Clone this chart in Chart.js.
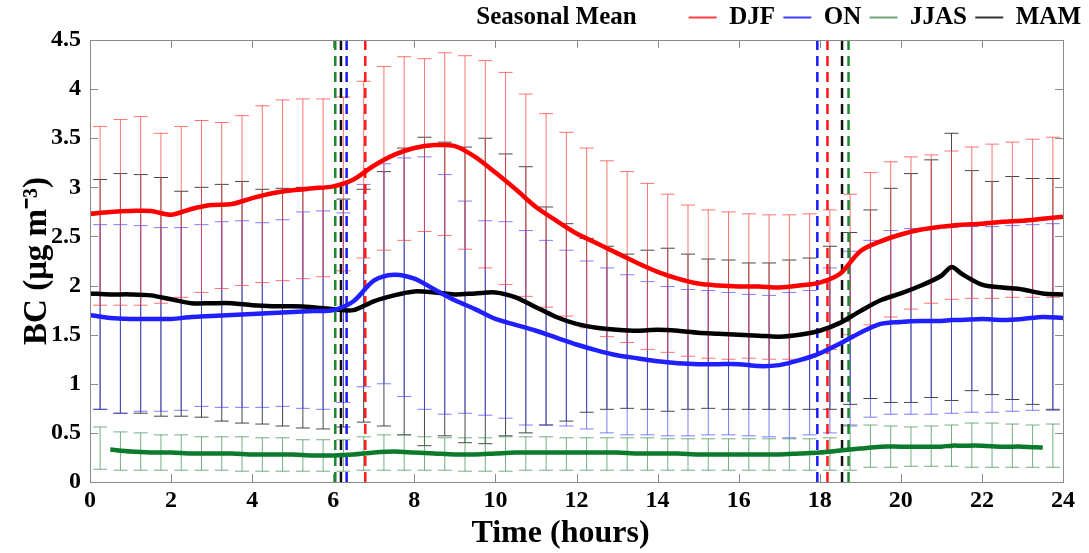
<!DOCTYPE html>
<html>
<head>
<meta charset="utf-8">
<script src="https://cdn.jsdelivr.net/npm/chart.js@4.4.1/dist/chart.umd.min.js"></script>
<style>
  html, body { margin: 0; padding: 0; background: #fff; }
  #wrap { width: 1089px; height: 553px; }
</style>
</head>
<body>
<div id="wrap"><canvas id="chart1" width="1089" height="553"></canvas></div>
<script>
// hours of the mean curves
const hours = [0, 0.5, 1, 1.5, 2, 2.5, 3, 3.5, 4, 4.5, 5, 5.5, 6, 6.5, 7, 7.5, 8, 8.5, 9, 9.5,
  10, 10.5, 11, 11.5, 12, 12.5, 13, 13.5, 14, 14.5, 15, 15.5, 16, 16.5, 17, 17.5, 18, 18.5,
  19, 19.5, 20, 20.5, 21, 21.25, 21.5, 22, 22.5, 23, 23.5, 24];

const djfMean = [2.73, 2.75, 2.76, 2.76, 2.72, 2.78, 2.82, 2.83, 2.89, 2.94, 2.97, 2.99, 3.01, 3.08, 3.22, 3.33, 3.40, 3.43, 3.42, 3.31,
  3.15, 2.98, 2.80, 2.66, 2.53, 2.43, 2.33, 2.23, 2.14, 2.07, 2.02, 2.00, 1.99, 1.99, 1.98, 2.00, 2.03, 2.12,
  2.35, 2.45, 2.52, 2.57, 2.60, 2.61, 2.62, 2.63, 2.65, 2.66, 2.68, 2.70];
const onMean = [1.70, 1.67, 1.66, 1.66, 1.66, 1.68, 1.69, 1.70, 1.71, 1.72, 1.73, 1.74, 1.75, 1.84, 2.05, 2.11, 2.07, 1.96, 1.85, 1.76,
  1.66, 1.60, 1.54, 1.47, 1.40, 1.34, 1.29, 1.26, 1.23, 1.21, 1.20, 1.20, 1.20, 1.18, 1.19, 1.24, 1.31, 1.41,
  1.52, 1.61, 1.63, 1.64, 1.64, 1.65, 1.65, 1.66, 1.65, 1.66, 1.68, 1.67];
const jjasMean = [null, 0.33, 0.31, 0.30, 0.30, 0.29, 0.29, 0.29, 0.28, 0.28, 0.28, 0.27, 0.27, 0.28, 0.30, 0.31, 0.30, 0.29, 0.28, 0.28,
  0.29, 0.30, 0.30, 0.30, 0.30, 0.30, 0.30, 0.29, 0.29, 0.29, 0.28, 0.28, 0.28, 0.28, 0.28, 0.29, 0.30, 0.32,
  0.34, 0.36, 0.36, 0.36, 0.36, 0.37, 0.37, 0.37, 0.36, 0.36, 0.35, null];
const mamMean = [1.92, 1.91, 1.91, 1.90, 1.86, 1.82, 1.82, 1.82, 1.80, 1.79, 1.79, 1.78, 1.76, 1.75, 1.84, 1.90, 1.94, 1.93, 1.91, 1.92,
  1.93, 1.88, 1.78, 1.68, 1.61, 1.57, 1.55, 1.54, 1.55, 1.54, 1.52, 1.51, 1.50, 1.49, 1.48, 1.50, 1.54, 1.62,
  1.74, 1.85, 1.92, 2.00, 2.10, 2.19, 2.12, 2.01, 1.98, 1.96, 1.92, 1.91];

// half-hour error bar centres
const barHours = [0.25, 0.75, 1.25, 1.75, 2.25, 2.75, 3.25, 3.75, 4.25, 4.75, 5.25, 5.75, 6.25, 6.75, 7.25, 7.75,
  8.25, 8.75, 9.25, 9.75, 10.25, 10.75, 11.25, 11.75, 12.25, 12.75, 13.25, 13.75, 14.25, 14.75, 15.25, 15.75,
  16.25, 16.75, 17.25, 17.75, 18.25, 18.75, 19.25, 19.75, 20.25, 20.75, 21.25, 21.75, 22.25, 22.75, 23.25, 23.75];

const djfHi = [3.62, 3.69, 3.72, 3.55, 3.62, 3.68, 3.66, 3.73, 3.83, 3.89, 3.90, 3.90, 3.92, 4.08, 4.23, 4.33,
  4.31, 4.37, 4.34, 4.29, 4.17, 3.95, 3.75, 3.56, 3.40, 3.27, 3.16, 3.04, 2.93, 2.82, 2.77, 2.75,
  2.73, 2.72, 2.72, 2.73, 2.77, 2.93, 3.15, 3.26, 3.31, 3.33, 3.37, 3.41, 3.44, 3.46, 3.49, 3.51];
const djfLo = [1.80, 1.80, 1.80, 1.82, 1.88, 1.93, 1.97, 2.00, 2.03, 2.05, 2.07, 2.09, 2.15, 2.28, 2.36, 2.46,
  2.55, 2.51, 2.37, 2.18, 2.01, 1.89, 1.78, 1.69, 1.57, 1.48, 1.42, 1.35, 1.32, 1.28, 1.26, 1.25,
  1.26, 1.25, 1.25, 1.27, 1.35, 1.50, 1.60, 1.68, 1.76, 1.82, 1.86, 1.87, 1.87, 1.88, 1.88, 1.88];
const onHi = [2.62, 2.62, 2.61, 2.59, 2.59, 2.62, 2.65, 2.66, 2.64, 2.67, 2.75, 2.76, 2.74, 3.03, 3.24, 3.30,
  3.31, 3.13, 2.86, 2.66, 2.65, 2.56, 2.46, 2.36, 2.25, 2.18, 2.11, 2.04, 1.99, 1.96, 1.95, 1.93,
  1.91, 1.90, 1.93, 1.95, 2.18, 2.35, 2.46, 2.56, 2.58, 2.58, 2.59, 2.60, 2.60, 2.61, 2.62, 2.63];
const onLo = [0.74, 0.70, 0.72, 0.72, 0.73, 0.77, 0.76, 0.76, 0.76, 0.77, 0.75, 0.74, 0.81, 0.97, 1.00, 0.87,
  0.74, 0.69, 0.70, 0.68, 0.65, 0.58, 0.58, 0.57, 0.54, 0.50, 0.48, 0.48, 0.47, 0.47, 0.48, 0.48,
  0.47, 0.46, 0.45, 0.48, 0.50, 0.58, 0.66, 0.69, 0.69, 0.69, 0.70, 0.71, 0.71, 0.72, 0.73, 0.73];
const jjasHi = [0.56, 0.51, 0.50, 0.48, 0.48, 0.46, 0.46, 0.46, 0.45, 0.45, 0.43, 0.43, 0.43, 0.46, 0.48, 0.48,
  0.46, 0.45, 0.45, 0.45, 0.46, 0.46, 0.46, 0.45, 0.45, 0.45, 0.45, 0.45, 0.44, 0.44, 0.44, 0.44,
  0.44, 0.44, 0.44, 0.44, 0.45, 0.57, 0.58, 0.57, 0.56, 0.57, 0.58, 0.60, 0.60, 0.59, 0.58, 0.59];
const jjasLo = [0.13, 0.12, 0.12, 0.12, 0.12, 0.12, 0.12, 0.11, 0.11, 0.11, 0.11, 0.11, 0.11, 0.12, 0.12, 0.12,
  0.12, 0.12, 0.11, 0.11, 0.11, 0.12, 0.12, 0.12, 0.12, 0.12, 0.12, 0.12, 0.12, 0.12, 0.12, 0.12,
  0.12, 0.12, 0.12, 0.12, 0.12, 0.12, 0.15, 0.15, 0.16, 0.16, 0.16, 0.15, 0.15, 0.15, 0.15, 0.15];
const mamHi = [3.08, 3.14, 3.13, 3.10, 2.96, 3.00, 3.03, 3.06, 2.98, 2.99, 3.00, 3.00, 2.88, 2.98, 3.16, 3.40,
  3.51, 3.46, 3.41, 3.50, 3.34, 3.21, 2.80, 2.63, 2.48, 2.40, 2.32, 2.36, 2.38, 2.32, 2.27, 2.26,
  2.23, 2.23, 2.26, 2.28, 2.40, 2.54, 2.77, 2.99, 3.14, 3.28, 3.55, 3.17, 3.06, 3.11, 3.09, 3.09];
const mamLo = [0.74, 0.70, 0.70, 0.67, 0.67, 0.66, 0.62, 0.60, 0.59, 0.57, 0.55, 0.54, 0.56, 0.61, 0.57, 0.48,
  0.37, 0.47, 0.40, 0.39, 0.47, 0.50, 0.58, 0.62, 0.71, 0.74, 0.75, 0.74, 0.72, 0.74, 0.75, 0.74,
  0.74, 0.74, 0.74, 0.74, 0.74, 0.79, 0.85, 0.81, 0.81, 0.86, 0.83, 0.93, 0.89, 0.84, 0.79, 0.74];

// sunrise / sunset markers
const seasons = ['DJF', 'ON', 'JJAS', 'MAM'];
const sunrise = [6.79, 6.33, 6.05, 6.19];
const sunset = [18.19, 17.94, 18.71, 18.55];

const meanColors = ['#ff0000', '#1f1fff', '#0b7a2c', '#000000'];
const barColors = ['rgba(255,70,70,0.75)', 'rgba(70,70,255,0.7)', 'rgba(60,140,80,0.7)', 'rgba(40,40,40,0.85)'];
const dashColors = ['#ff1a1a', '#1a1aff', '#1b8a2e', '#111111'];
const legendColors = ['#ff4040', '#4040ff', '#6aa67a', '#333333'];

const font = 'Liberation Serif';

function pts(xs, ys) {
    return xs.map((x, i) => ({x: x, y: ys[i]}));
}

function stems(lo, hi) {
    let out = [];
    barHours.forEach((h, i) => {
        out.push({x: h, y: lo[i]});
        out.push({x: h, y: hi[i]});
        out.push({x: h, y: null});
    });
    return out;
}

function caps(lo, hi) {
    let out = [];
    barHours.forEach((h, i) => {
        out.push({x: h, y: lo[i]});
        out.push({x: h, y: hi[i]});
    });
    return out;
}

const means = [djfMean, onMean, jjasMean, mamMean];
const his = [djfHi, onHi, jjasHi, mamHi];
const los = [djfLo, onLo, jjasLo, mamLo];

let datasets = [];
seasons.forEach((s, i) => {
    datasets.push({
        type: 'line', label: s, data: pts(hours, means[i]),
        borderColor: meanColors[i], backgroundColor: meanColors[i],
        borderWidth: 4.5, pointRadius: 0, tension: 0.3, spanGaps: true, order: 0
    });
});
// draw order for error bars: black, green, blue, red on top
[3, 2, 1, 0].forEach((i, n) => {
    datasets.push({
        type: 'line', label: seasons[i] + ' sd', data: stems(los[i], his[i]),
        borderColor: barColors[i], borderWidth: 1, pointRadius: 0, spanGaps: false, order: 10 - n
    });
    datasets.push({
        type: 'scatter', label: seasons[i] + ' caps', data: caps(los[i], his[i]),
        borderColor: barColors[i], pointStyle: 'line', pointRadius: 7, borderWidth: 1, order: 10 - n
    });
});
seasons.forEach((s, i) => {
    [sunrise[i], sunset[i]].forEach(h => {
        datasets.push({
            type: 'line', label: s + ' sun', data: [{x: h, y: 0}, {x: h, y: 4.5}],
            borderColor: dashColors[i], borderWidth: 2.5, borderDash: [10, 6], pointRadius: 0, order: 1
        });
    });
});

const frame = {
    id: 'frame',
    afterDraw(chart) {
        const {ctx, chartArea: a, scales} = chart;
        ctx.save();
        ctx.strokeStyle = '#8a8a8a';
        ctx.lineWidth = 1;
        ctx.strokeRect(a.left + 0.5, a.top + 0.5, a.right - a.left, a.bottom - a.top);
        ctx.beginPath();
        scales.x.ticks.forEach(t => {
            const px = Math.round(scales.x.getPixelForValue(t.value)) + 0.5;
            ctx.moveTo(px, a.bottom); ctx.lineTo(px, a.bottom - 8);
            ctx.moveTo(px, a.top); ctx.lineTo(px, a.top + 8);
        });
        scales.y.ticks.forEach(t => {
            const py = Math.round(scales.y.getPixelForValue(t.value)) + 0.5;
            ctx.moveTo(a.left, py); ctx.lineTo(a.left + 8, py);
            ctx.moveTo(a.right, py); ctx.lineTo(a.right - 8, py);
        });
        ctx.stroke();
        ctx.restore();
    }
};

const ctx1 = document.getElementById('chart1').getContext('2d');
window.bar1 = new Chart(ctx1, {
    data: {datasets: datasets},
    options: {
        responsive: false,
        animation: false,
        events: [],
        layout: {padding: {left: 0, right: 6, top: 3, bottom: 0}},
        plugins: {
            tooltip: {enabled: false},
            legend: {
                position: 'top',
                align: 'end',
                labels: {
                    color: '#000',
                    font: {family: font, size: 25, weight: 'bold'},
                    usePointStyle: true,
                    pointStyleWidth: 28,
                    padding: 2,
                    generateLabels(chart) {
                        let items = Chart.defaults.plugins.legend.labels.generateLabels(chart)
                            .filter(it => it.datasetIndex < 4);
                        items.forEach(it => {
                            it.pointStyle = 'line';
                            it.lineWidth = 2;
                            it.strokeStyle = legendColors[it.datasetIndex];
                            if (it.datasetIndex < 3) it.text = it.text + ' ';
                        });
                        items.unshift({text: 'Seasonal Mean        ', fillStyle: 'rgba(0,0,0,0)',
                            strokeStyle: 'rgba(0,0,0,0)', lineWidth: 0, pointStyle: 'line',
                            hidden: false, datasetIndex: -1, fontColor: '#000'});
                        return items;
                    }
                }
            }
        },
        scales: {
            x: {
                type: 'linear', min: 0, max: 24,
                ticks: {stepSize: 2, color: '#000', padding: 4, maxRotation: 0,
                    font: {family: font, size: 24, weight: 'bold'}},
                grid: {display: false, drawTicks: false},
                border: {display: false},
                title: {display: true, text: 'Time (hours)    ', color: '#000', padding: {top: 0, bottom: 0},
                    font: {family: font, size: 32, weight: 'bold'}},
                afterFit(scale) { scale.height = 71; }
            },
            y: {
                type: 'linear', min: 0, max: 4.5,
                ticks: {stepSize: 0.5, color: '#000', padding: 9,
                    font: {family: font, size: 24, weight: 'bold'},
                    callback: v => String(v)},
                grid: {display: false, drawTicks: false},
                border: {display: false},
                title: {display: true, text: 'BC (μg m⁻³)', color: '#000', padding: {top: 18, bottom: 0},
                    font: {family: font, size: 33, weight: 'bold'}},
                afterFit(scale) { scale.width = 90; }
            },
            yRight: {
                type: 'linear', position: 'right', min: 0, max: 4.5,
                ticks: {display: false},
                grid: {display: false, drawTicks: false},
                border: {display: false},
                afterFit(scale) { scale.width = 20; }
            }
        }
    },
    plugins: [frame]
});
</script>
</body>
</html>
